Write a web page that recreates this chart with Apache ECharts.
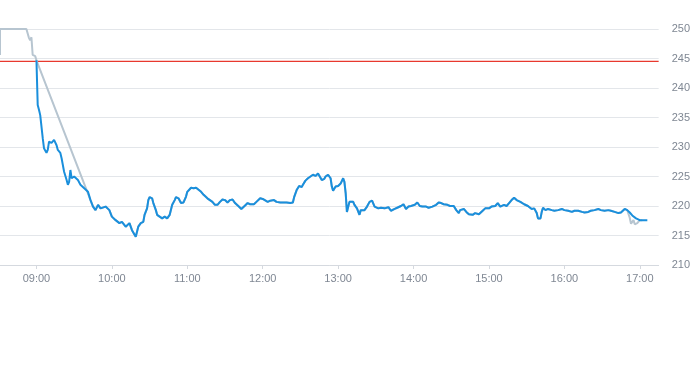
<!DOCTYPE html>
<html>
<head>
<meta charset="utf-8">
<script src="https://cdn.jsdelivr.net/npm/echarts@6/dist/echarts.min.js"></script>
<style>html,body{margin:0;padding:0;background:#fff}#c{width:693px;height:365px}</style>
</head>
<body>
<div id="c"></div>
<script>
// Main intraday series (blue)
const blueTimes = ["09:00","09:01","09:02","09:03","09:05","09:06","09:08","09:09","09:10","09:12","09:14","09:16","09:17","09:19","09:20","09:22","09:24","09:25","09:26","09:27","09:28","09:30","09:33","09:35","09:38","09:41","09:43","09:45","09:47","09:49","09:51","09:55","09:58",
"10:00","10:03","10:06","10:08","10:11","10:14","10:16","10:19","10:21","10:23","10:25","10:26","10:28","10:29","10:30","10:32","10:33","10:34","10:35","10:36","10:38","10:40","10:42","10:44","10:46","10:48","10:50","10:51","10:53","10:55","10:57","10:59",
"11:00","11:03","11:05","11:07","11:08","11:11","11:13","11:16","11:18","11:20","11:22","11:24","11:26","11:28","11:30","11:31","11:32","11:34","11:36","11:38","11:41","11:43","11:46","11:48","11:50","11:53","11:55","11:58",
"12:00","12:01","12:04","12:06","12:09","12:11","12:14","12:17","12:19","12:22","12:24","12:25","12:27","12:29","12:30","12:31","12:32","12:34","12:36","12:38","12:40","12:42","12:44","12:45","12:47","12:49","12:50","12:52","12:54","12:55","12:56","12:58",
"13:00","13:02","13:04","13:05","13:06","13:07","13:09","13:10","13:12","13:13","13:15","13:17","13:18","13:19","13:21","13:23","13:25","13:26","13:27","13:29","13:32","13:34","13:37","13:40","13:42","13:45","13:47","13:50","13:52","13:54","13:56","13:58",
"14:01","14:03","14:05","14:07","14:10","14:12","14:15","14:18","14:20","14:22","14:24","14:27","14:29","14:32","14:34","14:36","14:37","14:40","14:42","14:44","14:47","14:49","14:52","14:55","14:57",
"15:00","15:02","15:05","15:07","15:09","15:12","15:14","15:16","15:18","15:20","15:22","15:25","15:28","15:29","15:31","15:34","15:36","15:38","15:39","15:41","15:42","15:43","15:45","15:47","15:50","15:52","15:55","15:58",
"16:00","16:03","16:06","16:08","16:11","16:14","16:16","16:19","16:21","16:24","16:27","16:29","16:32","16:35","16:37","16:40","16:43","16:45","16:48","16:50","16:52","16:54","16:57","17:00","17:02","17:06"];
const blueValues = [244.7,237.1,236.3,235.4,231.5,229.8,229.0,229.5,230.9,230.7,231.2,230.3,229.5,229.0,228.1,225.8,224.4,223.6,224.1,226.1,224.7,225.0,224.4,223.6,223.0,222.4,221.0,219.9,219.3,220.2,219.6,219.9,219.3,
218.2,217.6,217.1,217.3,216.5,217.1,215.9,214.8,216.5,217.1,217.3,218.5,219.6,221.0,221.5,221.3,220.5,220.7,219.3,218.5,218.2,217.9,218.2,217.9,218.5,220.2,221.0,221.5,221.3,220.5,220.6,221.6,
222.4,223.1,223.0,223.1,222.9,222.4,221.9,221.3,221.0,220.7,220.2,220.2,220.7,221.1,221.0,221.3,220.6,221.0,221.1,220.5,219.9,219.5,220.1,220.5,220.3,220.3,220.7,221.3,
221.2,220.9,220.7,220.9,221.0,220.7,220.6,220.6,220.6,220.5,220.6,221.5,222.7,223.4,223.6,223.2,223.6,224.3,224.7,225.0,225.3,225.1,225.5,225.3,224.4,224.6,225.0,225.3,224.7,223.3,222.6,223.3,
223.4,223.8,224.7,224.1,222.2,219.0,220.7,221.0,220.7,220.2,219.6,218.5,219.3,219.6,219.3,219.9,220.7,221.0,220.9,219.9,219.6,219.7,219.6,219.8,219.2,219.5,219.7,220.0,220.3,219.5,219.9,220.0,
220.2,220.6,220.0,219.9,219.9,219.7,219.9,220.2,220.6,220.5,220.3,220.2,220.0,220.0,219.3,218.8,219.3,219.5,219.0,218.6,218.5,218.8,218.6,219.2,219.6,
219.6,219.9,220.0,220.5,219.9,220.2,220.0,220.5,221.0,221.4,221.0,220.7,220.3,220.2,220.0,219.5,219.6,218.8,217.9,217.9,219.0,219.7,219.3,219.5,219.3,219.2,219.3,219.5,
219.3,219.2,219.0,219.2,219.2,219.0,218.9,219.0,219.2,219.3,219.5,219.3,219.2,219.3,219.2,219.0,218.8,218.9,219.5,219.3,218.9,218.4,217.9,217.6,217.6,217.6];

// Secondary series (grey): pre-open part and closing part; middle follows the main series
const greyPreTimes = ["08:31","08:31","08:52","08:54","08:55","08:56","08:57","08:59","09:00"];
const greyPreValues = [245.6,250.0,250.0,248.5,248.1,248.6,245.6,245.4,244.7];
const greyJoinFrom = "09:45";
const greyJoinTo = "16:50";
const greyEndTimes = ["16:52","16:53","16:55","16:56","16:58","17:00","17:02"];
const greyEndValues = [218.0,217.0,217.6,216.9,217.1,217.6,217.6];

// Reference level (red horizontal line across the whole axis)
const refValue = 244.5;
const xTickLabels = ["09:00","10:00","11:00","12:00","13:00","14:00","15:00","16:00","17:00"];
const xMin = "08:31", xMax = "17:15";
const yMin = 210, yMax = 250, yStep = 5;

function toMin(t){const p=t.split(":");return (+p[0])*60+(+p[1]);}
function fmt(m){const h=Math.floor(m/60),mm=Math.round(m%60);return String(h).padStart(2,"0")+":"+String(mm).padStart(2,"0");}

const blueData = blueTimes.map((t,i)=>[toMin(t), blueValues[i]]);
const greyData = greyPreTimes.map((t,i)=>[toMin(t), greyPreValues[i]]);
const jf = toMin(greyJoinFrom), jt = toMin(greyJoinTo);
blueData.forEach(d=>{ if(d[0]>=jf && d[0]<=jt) greyData.push(d.slice()); });
greyEndTimes.forEach((t,i)=>greyData.push([toMin(t), greyEndValues[i]]));
const refData = [[toMin(xMin), refValue],[toMin(xMax), refValue]];

const RED = '#e8392e';
const chart = echarts.init(document.getElementById('c'), null, {renderer:'canvas'});
chart.setOption({
  animation:false,
  backgroundColor:'#fff',
  grid:{left:0,right:30,top:29,bottom:100,containLabel:false},
  xAxis:{
    type:'value', min:toMin(xMin), max:toMin(xMax),
    axisLine:{show:true,lineStyle:{color:'#d5d9df',width:1}},
    axisTick:{show:true,length:4,lineStyle:{color:'#d5d9df'},customValues:xTickLabels.map(toMin)},
    axisLabel:{color:'#7f8793',fontSize:11,fontFamily:'Liberation Sans, Arial, sans-serif',margin:8,
      customValues:xTickLabels.map(toMin),formatter:v=>fmt(v)},
    splitLine:{show:false}
  },
  yAxis:{
    type:'value', position:'right', min:yMin, max:yMax, interval:yStep,
    axisLine:{show:false}, axisTick:{show:false},
    axisLabel:{color:'#7f8793',fontSize:11,fontFamily:'Liberation Sans, Arial, sans-serif',margin:13},
    splitLine:{lineStyle:{color:'#e3e6ea',width:1}}
  },
  series:[
    {type:'line',data:refData,showSymbol:false,symbol:'none',silent:true,
     lineStyle:{color:RED,width:1.2},itemStyle:{color:RED},z:1},
    {type:'line',data:greyData,showSymbol:false,symbol:'none',
     lineStyle:{color:'#b7c5d0',width:2},itemStyle:{color:'#b7c5d0'},z:2},
    {type:'line',data:blueData,showSymbol:false,symbol:'none',
     lineStyle:{color:'#1a8fdc',width:2},itemStyle:{color:'#1a8fdc'},z:3}
  ]
});
</script>
</body>
</html>
